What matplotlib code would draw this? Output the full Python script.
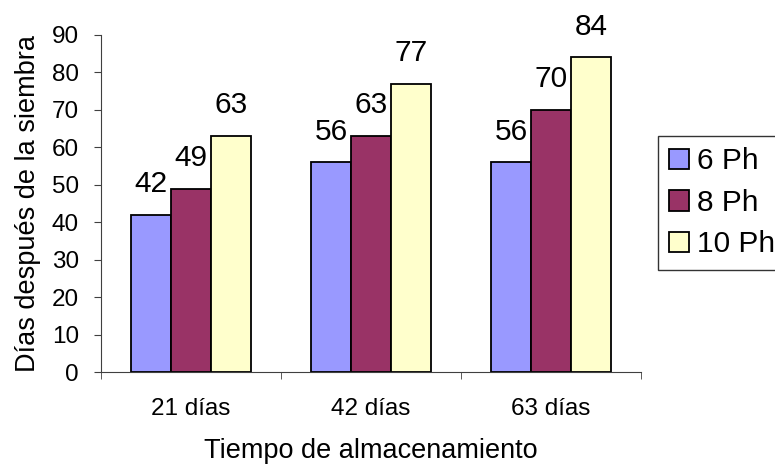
import numpy as np
import matplotlib.pyplot as plt

plt.rcParams['font.family'] = ['Liberation Sans', 'DejaVu Sans']

categorias = ['21 días', '42 días', '63 días']
series = ['6 Ph', '8 Ph', '10 Ph']
ph6 = [42, 56, 56]
ph8 = [49, 63, 70]
ph10 = [63, 77, 84]
colores = ['#9999FF', '#993366', '#FFFFCC']

fig = plt.figure(figsize=(7.75, 4.66), dpi=100)
ax = fig.add_axes([0.1303, 0.2017, 0.6968, 0.7232])

x = np.arange(len(categorias))
ancho = 0.222
for i, (valores, nombre, color) in enumerate(zip([ph6, ph8, ph10], series, colores)):
    pos = x + (i - 1) * ancho
    barras = ax.bar(pos, valores, ancho, color=color, edgecolor='black',
                    linewidth=1.3, label=nombre)
    # etiqueta con el valor encima de cada barra
    for b, v in zip(barras, valores):
        ax.annotate(str(v), (b.get_x() + b.get_width() / 2, v),
                    xytext=(0, 12), textcoords='offset points',
                    ha='center', va='bottom', fontsize=21.5)

ax.set_xlim(-0.5, 2.5)
ax.set_ylim(0, 90)
ax.set_yticks(range(0, 91, 10))
ax.set_xticks(x)
ax.set_xticklabels(categorias, fontsize=17.5)
ax.set_xticks([-0.5, 0.5, 1.5, 2.5], minor=True)
ax.tick_params(axis='x', which='major', length=0, pad=19)
ax.tick_params(axis='x', which='minor', length=5, direction='out', color='#404040')
ax.tick_params(axis='y', labelsize=17.5, length=5, pad=11, direction='out',
               color='#404040')

for lado in ['top', 'right']:
    ax.spines[lado].set_visible(False)
ax.spines['left'].set_color('#404040')
ax.spines['bottom'].set_color('#404040')

ax.set_xlabel('Tiempo de almacenamiento', fontsize=19.5, labelpad=13)
ax.set_ylabel('Días después de la siembra', fontsize=19.5, labelpad=8)

leg = ax.legend(loc='upper left', bbox_to_anchor=(0.849, 0.708),
                bbox_transform=fig.transFigure, fontsize=21.5, frameon=True,
                fancybox=False, handlelength=0.67, handleheight=0.67,
                handletextpad=0.27, borderpad=0.38, labelspacing=0.45,
                borderaxespad=0)
leg.get_frame().set_edgecolor('black')
leg.get_frame().set_linewidth(1.0)

fig.savefig('out.png', dpi=100)
